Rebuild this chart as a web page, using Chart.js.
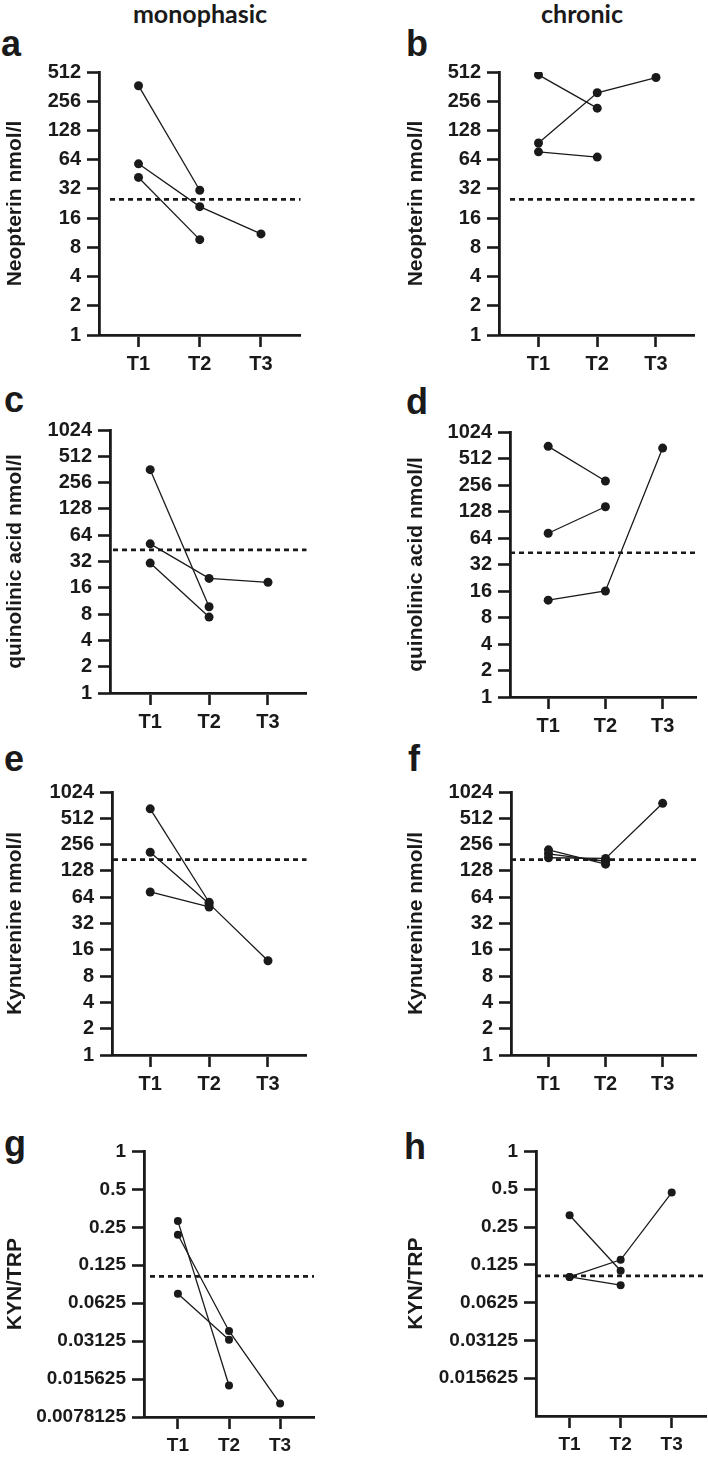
<!DOCTYPE html>
<html>
<head>
<meta charset="utf-8">
<script src="https://cdn.jsdelivr.net/npm/chart.js@4.4.1/dist/chart.umd.min.js"></script>
<style>
  html, body { margin: 0; padding: 0; background: #fff; overflow: hidden; }
  #page { position: relative; width: 708px; height: 1459px; }
  .head { position: absolute; width: 300px; text-align: center; font: bold 25px Lato, sans-serif; line-height: 25px; color: #1a1a1a; }
  .letter { position: absolute; font: bold 36px "Liberation Sans", Arial, sans-serif; line-height: 36px; color: #1a1a1a; }
  .panel { position: absolute; }
</style>
</head>
<body>
<div id="page">
  <div class="head" style="left:50px;top:1px">monophasic</div>
  <div class="head" style="left:432px;top:1px">chronic</div>
  <div class="letter" style="left:1px;top:26px">a</div>
  <div class="letter" style="left:406px;top:26px">b</div>
  <div class="letter" style="left:4px;top:382px">c</div>
  <div class="letter" style="left:406px;top:384px">d</div>
  <div class="letter" style="left:4px;top:741px">e</div>
  <div class="letter" style="left:408px;top:741px">f</div>
  <div class="letter" style="left:4px;top:1126px">g</div>
  <div class="letter" style="left:404px;top:1129px">h</div>
</div>
<script>
// time points on the x axis
var timepoints = ["T1", "T2", "T3"];

// y tick labels
var ticks512 = [1, 2, 4, 8, 16, 32, 64, 128, 256, 512];
var ticks1024 = [1, 2, 4, 8, 16, 32, 64, 128, 256, 512, 1024];
var ticksRatio = [0.0078125, 0.015625, 0.03125, 0.0625, 0.125, 0.25, 0.5, 1];
var ticksRatioH = [0.015625, 0.03125, 0.0625, 0.125, 0.25, 0.5, 1];

// a - neopterin, monophasic
var neoMonoA = [370, 31, null];
var neoMonoB = [58, 21, 11];
var neoMonoC = [42, 9.6, null];
// b - neopterin, chronic
var neoChronA = [478, 217, null];
var neoChronB = [95, 313, 449];
var neoChronC = [77, 68, null];
// c - quinolinic acid, monophasic
var quinMonoA = [360, 9.7, null];
var quinMonoB = [51, 20.5, 18.5];
var quinMonoC = [30.7, 7.4, null];
// d - quinolinic acid, chronic
var quinChronA = [704, 284, null];
var quinChronB = [72.5, 145, null];
var quinChronC = [12.6, 16, 672];
// e - kynurenine, monophasic
var kynMonoA = [657, 56, null];
var kynMonoB = [209, 54, 12];
var kynMonoC = [73.5, 49.5, null];
// f - kynurenine, chronic
var kynChronA = [223, 153, null];
var kynChronB = [201, 165, null];
var kynChronC = [181, 178, 760];
// g - KYN/TRP, monophasic
var ratioMonoA = [0.28, 0.0139, null];
var ratioMonoB = [0.218, 0.0376, 0.00998];
var ratioMonoC = [0.0743, 0.032, null];
// h - KYN/TRP, chronic
var ratioChronA = [0.31, 0.112, null];
var ratioChronB = [0.1, 0.137, 0.47];
var ratioChronC = [0.1, 0.086, null];

// reference (cut-off) values, dotted lines
var cutNeopterin = 25;
var cutQuinolinic = 43.5;
var cutKynurenine = 172;
var cutRatio = 0.102;

var INK = "#1a1a1a";
var FONT = "'Liberation Sans', Arial, sans-serif";

// panel layout (pixels on the page)
var panels = [
  { colLeft: 3,   axisX: 99,  top: 69,   bottom: 335,  right: 303, t1: 139,   t3: 263,   yMin: 1, yMax: 512,  ticks: ticks512,   title: "Neopterin nmol/l",       series: [neoMonoA, neoMonoB, neoMonoC],       cut: cutNeopterin,  refOffset: 11, size: 20, r: 4.5 },
  { colLeft: 404, axisX: 499, top: 69,   bottom: 335,  right: 697, t1: 539,   t3: 658,   yMin: 1, yMax: 512,  ticks: ticks512,   title: "Neopterin nmol/l",       series: [neoChronA, neoChronB, neoChronC],    cut: cutNeopterin,  refOffset: 11, size: 20, r: 4.5 },
  { colLeft: 3,   axisX: 110, top: 427,  bottom: 693,  right: 309, t1: 150.7, t3: 270,   yMin: 1, yMax: 1024, ticks: ticks1024,  title: "quinolinic acid nmol/l", series: [quinMonoA, quinMonoB, quinMonoC],    cut: cutQuinolinic, refOffset: 3,  size: 20, r: 4.5 },
  { colLeft: 404, axisX: 510, top: 429,  bottom: 697,  right: 699, t1: 548.7, t3: 664.7, yMin: 1, yMax: 1024, ticks: ticks1024,  title: "quinolinic acid nmol/l", series: [quinChronA, quinChronB, quinChronC], cut: cutQuinolinic, refOffset: 0,  size: 20, r: 4.5 },
  { colLeft: 3,   axisX: 112, top: 789,  bottom: 1055, right: 309, t1: 150.7, t3: 270,   yMin: 1, yMax: 1024, ticks: ticks1024,  title: "Kynurenine nmol/l",      series: [kynMonoA, kynMonoB, kynMonoC],       cut: cutKynurenine, refOffset: 1,  size: 20, r: 4.5 },
  { colLeft: 404, axisX: 511, top: 789,  bottom: 1055, right: 699, t1: 549,   t3: 664.7, yMin: 1, yMax: 1024, ticks: ticks1024,  title: "Kynurenine nmol/l",      series: [kynChronA, kynChronB, kynChronC],    cut: cutKynurenine, refOffset: 0,  size: 20, r: 4.5 },
  { colLeft: 3,   axisX: 144, top: 1149, bottom: 1417, right: 316, t1: 178.3, t3: 281.7, yMin: 0.0078125, yMax: 1, ticks: ticksRatio,  title: "KYN/TRP", series: [ratioMonoA, ratioMonoB, ratioMonoC],    cut: cutRatio, refOffset: 6, size: 19, r: 4 },
  { colLeft: 404, axisX: 536, top: 1149, bottom: 1416, right: 708, t1: 570,   t3: 673.3, yMin: 0.0078125, yMax: 1, ticks: ticksRatioH, title: "KYN/TRP", series: [ratioChronA, ratioChronB, ratioChronC], cut: cutRatio, refOffset: 0, size: 19, r: 4 }
];

var PAD_TOP = 15;
var PAD_RIGHT = 2;
var X_AXIS_H = 44;

// dotted cut-off line, drawn through the y scale
var refLinePlugin = {
  id: "refLine",
  beforeDatasetsDraw: function (chart, args, opts) {
    var y = chart.scales.y.getPixelForValue(opts.value);
    var area = chart.chartArea;
    var ctx = chart.ctx;
    ctx.save();
    ctx.strokeStyle = INK;
    ctx.lineWidth = 2.7;
    ctx.setLineDash([5, 4]);
    ctx.beginPath();
    ctx.moveTo(area.left + opts.offset, y);
    ctx.lineTo(area.right, y);
    ctx.stroke();
    ctx.restore();
  }
};

function toPoints(values) {
  var pts = [];
  values.forEach(function (v, i) {
    if (v !== null) pts.push({ x: i + 1, y: v });
  });
  return pts;
}

function makePanel(p) {
  var page = document.getElementById("page");
  var yWidth = p.axisX - p.colLeft;
  var div = document.createElement("div");
  div.className = "panel";
  div.style.left = p.colLeft + "px";
  div.style.top = (p.top - PAD_TOP) + "px";
  div.style.width = (yWidth + (p.right - p.axisX) + PAD_RIGHT) + "px";
  div.style.height = (PAD_TOP + (p.bottom - p.top) + X_AXIS_H) + "px";
  var canvas = document.createElement("canvas");
  div.appendChild(canvas);
  page.appendChild(div);

  var step = (p.t3 - p.t1) / 2;
  var xMin = 1 - (p.t1 - p.axisX) / step;
  var xMax = 3 + (p.right - p.t3) / step;

  var datasets = p.series.map(function (s) {
    return {
      data: toPoints(s),
      borderColor: INK,
      borderWidth: 1.3,
      pointRadius: p.r,
      pointBackgroundColor: INK,
      pointBorderColor: INK,
      pointBorderWidth: 0,
      showLine: true,
      fill: false
    };
  });

  new Chart(canvas, {
    type: "scatter",
    data: { datasets: datasets },
    plugins: [refLinePlugin],
    options: {
      responsive: true,
      maintainAspectRatio: false,
      animation: false,
      layout: { padding: { top: PAD_TOP, right: PAD_RIGHT, bottom: 0, left: 0 } },
      plugins: {
        legend: { display: false },
        tooltip: { enabled: false },
        refLine: { value: p.cut, offset: p.refOffset }
      },
      scales: {
        x: {
          type: "linear",
          min: xMin,
          max: xMax,
          afterBuildTicks: function (scale) {
            scale.ticks = timepoints.map(function (t, i) { return { value: i + 1 }; });
          },
          afterFit: function (scale) { scale.height = X_AXIS_H; },
          ticks: {
            autoSkip: false,
            maxRotation: 0,
            padding: 5,
            color: INK,
            font: { family: FONT, size: p.size, weight: "bold" },
            callback: function (v) { return timepoints[v - 1]; }
          },
          grid: { display: true, drawOnChartArea: false, drawTicks: true, tickLength: 12, tickWidth: 2.6, tickColor: INK },
          border: { display: true, width: 2.8, color: INK }
        },
        y: {
          type: "logarithmic",
          min: p.yMin,
          max: p.yMax,
          afterBuildTicks: function (scale) {
            scale.ticks = p.ticks.map(function (v) { return { value: v }; });
          },
          afterFit: function (scale) { scale.width = yWidth; },
          ticks: {
            autoSkip: false,
            padding: 6,
            color: INK,
            font: { family: FONT, size: p.size, weight: "bold" },
            callback: function (v) { return String(v); }
          },
          title: {
            display: true,
            text: p.title,
            color: INK,
            padding: { top: 0, bottom: 0 },
            font: { family: FONT, size: 21, weight: "bold" }
          },
          grid: { display: true, drawOnChartArea: false, drawTicks: true, tickLength: 12, tickWidth: 2.6, tickColor: INK },
          border: { display: true, width: 2.8, color: INK }
        }
      }
    }
  });
}

panels.forEach(makePanel);
</script>
</body>
</html>
